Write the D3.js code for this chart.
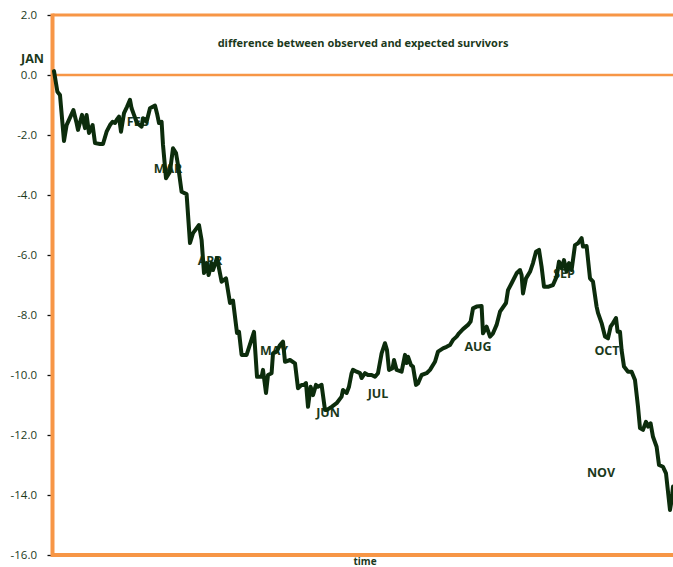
<!DOCTYPE html>
<html>
<head>
<meta charset="utf-8">
<script src="https://cdn.jsdelivr.net/npm/d3@7"></script>
<style>
  html, body { margin: 0; padding: 0; background: #fff; }
  svg { display: block; }
</style>
</head>
<body>
<svg id="chart" width="673" height="567"></svg>
<script>
// ---- data ----
const times = [0,1.7,3,5,6.3,9.7,11.3,12,14,15.5,16.3,17.5,19.3,20.5,23,24.5,26.3,28,29.3,30.5,31.3,32.5,33.5,35,36.5,38,38.8,40,41.5,43.8,44.5,46.3,48,50.5,51.5,52.5,53.8,54.5,56,58,59.5,61,62,63.8,66.3,68,69.5,72.5,73.8,75,76.3,77.3,78.8,79.5,81.5,83.8,86,88,89.5,91.5,92.5,93.8,96.3,100,101.5,103.8,104.5,106,107,108.8,109.5,111.3,113,114.5,115.5,118,120.5,122,123.8,125,126,127,128.3,129.5,131,132,133.8,135.5,136.3,138.8,141.3,143.8,144.5,146.3,147.5,148.8,149.5,151.3,153,153.8,155.5,157,158.8,160.5,162,163.8,165.5,166.5,167.5,169.3,170,171.3,173.8,175.5,176.3,177,178.5,179.5,181,182,183.8,186.3,188,190.5,192,194.5,196.3,198,199.5,201.3,202.5,204.5,207,208.3,209.5,211.3,213.8,214.5,216.3,218,219.5,221.3,223,226,227,228.8,231.3,233,233.8,234.5,236,238,239.5,241,242.5,243.8,245,247,249.5,251.3,252.5,253.8,255,256.3,257.5,258.8,260.5,262,263.8,264.5,266.3,268,269.5,271.3,272,273.8,275.5,277,278.3,279.5,281,281.8,283,283.8,285,287,288.8,290.5,292,293,294.5,296,297,298.3,299.5,301.3,302.5,304.5,306,308,308.8,309.5];
const values = [0.13,-0.56,-0.67,-2.2,-1.67,-1.17,-1.6,-1.83,-1.33,-1.77,-1.33,-1.93,-1.67,-2.27,-2.3,-2.3,-1.89,-1.67,-1.56,-1.6,-1.5,-1.39,-1.89,-1.27,-1.06,-0.83,-1.11,-1.33,-1.6,-1.72,-1.44,-1.56,-1.11,-1.02,-1.28,-1.6,-1.56,-2.33,-3.44,-3.22,-2.44,-2.6,-3.0,-3.89,-3.97,-5.6,-5.27,-5.0,-5.5,-6.6,-6.27,-6.67,-6.27,-6.5,-6.1,-6.89,-6.78,-7.6,-7.52,-8.6,-8.56,-9.33,-9.33,-8.56,-10.06,-10.06,-9.83,-10.6,-10.0,-9.94,-9.28,-9.22,-9.0,-8.89,-9.56,-9.5,-9.61,-10.44,-10.33,-10.33,-10.27,-11.06,-10.39,-10.67,-10.33,-10.39,-10.33,-11.17,-11.17,-11.06,-10.94,-10.72,-10.5,-10.6,-10.39,-9.94,-9.83,-9.89,-9.94,-10.1,-9.94,-10.0,-10.0,-10.06,-9.94,-9.28,-8.94,-9.17,-9.83,-9.77,-9.5,-9.83,-9.89,-9.33,-9.6,-9.39,-9.67,-9.72,-10.33,-10.28,-10.0,-9.94,-9.83,-9.56,-9.22,-9.11,-9.06,-9.0,-8.83,-8.72,-8.61,-8.47,-8.33,-8.22,-7.78,-7.72,-7.7,-8.61,-8.39,-8.72,-8.61,-8.33,-7.89,-7.6,-7.17,-6.94,-6.61,-6.5,-6.67,-7.28,-6.78,-6.56,-6.27,-5.89,-5.83,-6.39,-7.06,-7.06,-7.0,-6.72,-6.22,-6.44,-6.17,-6.56,-6.27,-6.5,-5.67,-5.61,-5.44,-5.72,-5.7,-6.78,-6.89,-7.72,-7.93,-8.27,-8.72,-8.78,-8.39,-8.27,-8.1,-8.56,-8.56,-9.17,-9.72,-9.89,-9.89,-10.17,-11.06,-11.77,-11.83,-11.56,-11.72,-11.61,-12.06,-12.39,-13.0,-13.06,-13.28,-14.5,-14.17,-13.72];

const monthLabels = ["JAN","FEB","MAR","APR","MAY","JUN","JUL","AUG","SEP","OCT","NOV"];
const monthT = [-10.75,42,57,78,110,137,162,212,255,276.5,273.5];
const monthV = [0.4,-1.7,-3.27,-6.33,-9.33,-11.4,-10.77,-9.2,-6.77,-9.33,-13.4];

const yTicks = [2,0,-2,-4,-6,-8,-10,-12,-14,-16];
const titleText = "difference between observed and expected survivors";
const xTitle = "time";

// ---- drawing ----
(function draw() {
  const svg = d3.select("#chart");
  const mLeft = 52.5, mTop = 15, mBottom = 555, mRight = 676;

  const x = d3.scaleLinear().domain([0, 310]).range([54, 674]);
  const y = d3.scaleLinear().domain([-16, 2]).range([mBottom, mTop]);

  const orange = "#f79646";
  const textCol = "#1b391b";
  const lineCol = "#0c2c0c";

  const yAxis = d3.axisLeft(y)
    .tickValues(yTicks)
    .tickFormat(d => d.toFixed(1))
    .tickSize(5)
    .tickPadding(10.5);
  const gy = svg.append("g").attr("transform", `translate(${mLeft},0)`).call(yAxis);
  gy.select(".domain").remove();
  gy.selectAll(".tick line").attr("stroke", "#111").attr("stroke-width", 1.3);
  gy.selectAll(".tick text")
    .attr("fill", textCol)
    .style("font-family", "'Open Sans', sans-serif")
    .style("font-size", "11.5px");

  svg.append("line").attr("x1", mLeft).attr("x2", mRight).attr("y1", y(2)).attr("y2", y(2))
    .attr("stroke", orange).attr("stroke-width", 3);
  svg.append("line").attr("x1", mLeft).attr("x2", mRight).attr("y1", y(-16)).attr("y2", y(-16))
    .attr("stroke", orange).attr("stroke-width", 4);
  svg.append("line").attr("x1", mLeft).attr("x2", mLeft).attr("y1", y(2) - 1.5).attr("y2", y(-16) + 2)
    .attr("stroke", orange).attr("stroke-width", 4);
  svg.append("line").attr("x1", mLeft).attr("x2", mRight).attr("y1", y(0)).attr("y2", y(0))
    .attr("stroke", orange).attr("stroke-width", 2.5);

  svg.append("text")
    .attr("x", 363).attr("y", 47)
    .attr("text-anchor", "middle")
    .attr("fill", textCol)
    .style("font-family", "'Open Sans', sans-serif")
    .style("font-weight", "bold")
    .style("font-size", "11px")
    .text(titleText);

  svg.append("text")
    .attr("x", 365).attr("y", 564.5)
    .attr("text-anchor", "middle")
    .attr("fill", textCol)
    .style("font-family", "'Open Sans', sans-serif")
    .style("font-weight", "bold")
    .style("font-size", "10px")
    .text(xTitle);

  svg.append("g").selectAll("text")
    .data(monthLabels)
    .join("text")
    .attr("x", (d, i) => x(monthT[i]))
    .attr("y", (d, i) => y(monthV[i]))
    .attr("text-anchor", "middle")
    .attr("fill", textCol)
    .style("font-family", "'Open Sans', sans-serif")
    .style("font-weight", "bold")
    .style("font-size", "12.5px")
    .text(d => d);

  const pts = times.map((t, i) => [t, values[i]]);
  svg.append("path")
    .datum(pts)
    .attr("fill", "none")
    .attr("stroke", lineCol)
    .attr("stroke-width", 4)
    .attr("stroke-linejoin", "round")
    .attr("stroke-linecap", "round")
    .attr("d", d3.line().x(d => x(d[0])).y(d => y(d[1])));
})();
</script>
</body>
</html>
